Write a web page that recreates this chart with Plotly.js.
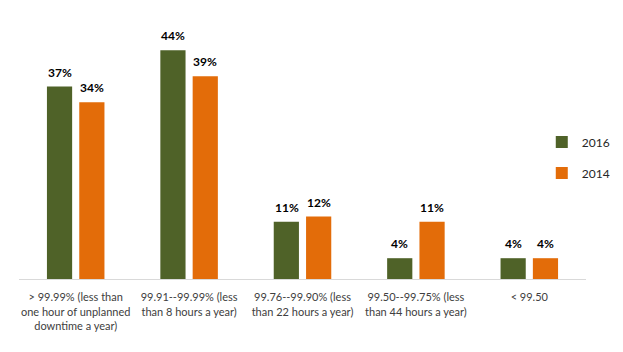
<!DOCTYPE html>
<html><head><meta charset="utf-8">
<script src="https://cdn.plot.ly/plotly-3.0.1.min.js"></script>
<style>html,body{margin:0;padding:0;background:#fff}#c{width:623px;height:352px}</style>
</head><body><div id="c"></div>
<script>
const categories = [
  "> 99.99% (less than<br>one hour of unplanned<br>downtime a year)",
  "99.91--99.99% (less<br>than 8 hours a year)",
  "99.76--99.90% (less<br>than 22 hours a year)",
  "99.50--99.75% (less<br>than 44 hours a year)",
  "< 99.50"
];
const values2016 = [37, 44, 11, 4, 4];
const values2014 = [34, 39, 12, 11, 4];
const seriesNames = ["2016", "2014"];
const colors = ["#4F6228", "#E36C09"];

const font = "Lato, 'Open Sans', 'DejaVu Sans', sans-serif";
const traces = [
  {type:'bar', name:seriesNames[0], x:categories, y:values2016, marker:{color:colors[0]}, legend:'legend', hoverinfo:'none'},
  {type:'bar', name:seriesNames[1], x:categories, y:values2014, marker:{color:colors[1]}, legend:'legend2', hoverinfo:'none'}
];
const annotations = [];
[values2016, values2014].forEach((vals, s) => {
  vals.forEach((v, i) => {
    annotations.push({x:categories[i], y:v, xref:'x', yref:'y', text:v+'%', showarrow:false,
      yanchor:'bottom', yshift:5, xshift: s===0 ? -16 : 16,
      font:{family:font, size:12, color:'#000', weight:'bold'}});
  });
});
const legendBase = {xref:'paper', yref:'paper', xanchor:'left', yanchor:'middle', bgcolor:'rgba(0,0,0,0)',
  font:{family:font, size:12, color:'#262626'}, itemwidth:30, traceorder:'normal'};
const layout = {
  width:623, height:352,
  margin:{l:19, r:37, t:19, b:73, autoexpand:false},
  paper_bgcolor:'#fff', plot_bgcolor:'#fff',
  barmode:'group', bargap:0.43, bargroupgap:0.22,
  showlegend:true,
  legend:Object.assign({}, legendBase, {x:0.922, y:(352-73-142)/260}),
  legend2:Object.assign({}, legendBase, {x:0.922, y:(352-73-173)/260}),
  xaxis:{showline:true, linecolor:'#d9d9d9', linewidth:1, ticks:'outside', ticklen:8, tickcolor:'rgba(0,0,0,0)',
    tickfont:{family:font, size:11, color:'#404040'}, tickangle:0, fixedrange:true},
  yaxis:{range:[0,50], showgrid:false, zeroline:false, showticklabels:false, fixedrange:true},
  annotations:annotations
};
Plotly.newPlot('c', traces, layout, {displayModeBar:false, staticPlot:true});
</script></body></html>
